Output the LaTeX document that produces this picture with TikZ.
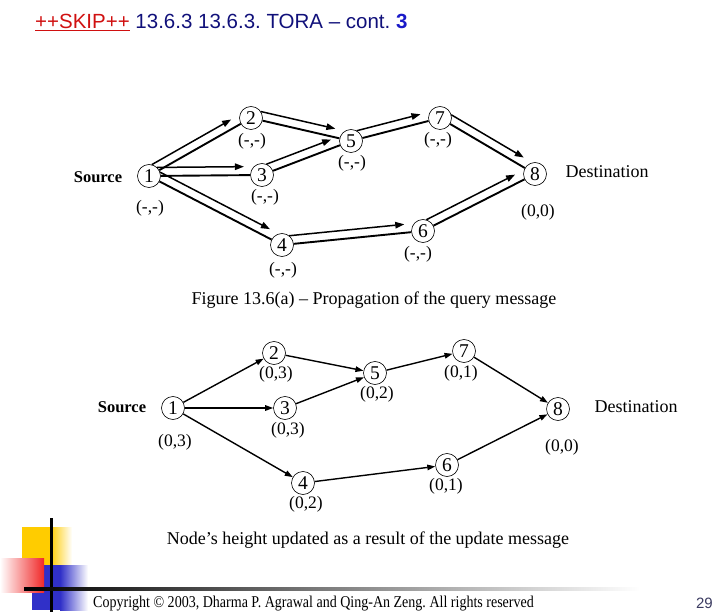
\documentclass[tikz,border=0pt]{standalone}
\usepackage{fontspec}
\setmainfont{Liberation Serif}
\newfontfamily\headfont[Ligatures=TeX]{Liberation Sans}
\newfontfamily\footfont[FakeStretch=0.85]{Liberation Serif}
\usetikzlibrary{calc,arrows.meta}
\frenchspacing
\definecolor{skipred}{HTML}{D01010}
\definecolor{titleblue}{HTML}{10107A}
\definecolor{numblue}{HTML}{1A1AC8}
\definecolor{decoyellow}{HTML}{FFCC00}
\definecolor{decored}{HTML}{F02828}
\definecolor{decoblue}{HTML}{3030C8}
\definecolor{pagegrey}{HTML}{3A3A60}
\tikzset{
  hnode/.style={draw, circle, line width=0.6pt, minimum size=23pt, inner sep=0pt,
                font=\fontsize{19.5}{19.5}\selectfont},
  hlabel/.style={font=\fontsize{17.5}{17.5}\selectfont, inner sep=0pt},
  endlabel/.style={font=\fontsize{18}{18}\selectfont, inner sep=0pt},
  srclabel/.style={font=\bfseries\fontsize{16.5}{16.5}\selectfont, inner sep=0pt},
  caption/.style={font=\fontsize{18}{18}\selectfont, inner sep=0pt},
  link/.style={line width=1.9pt},
  query/.style={line width=1.5pt, -{Triangle[length=9pt,width=6.5pt]}},
  update/.style={line width=1.4pt, -{Triangle[length=8pt,width=5.5pt]}},
}
% plain link plus the query arrow running beside it
\newcommand{\querypair}[2]{%
  \draw[link] (#1) -- (#2);
  \draw[query] ($(#1)!8pt!(#2)!8.5pt!90:(#2)$) -- ($(#2)!18pt!(#1)!8.5pt!-90:(#1)$);}

\begin{document}
\begin{tikzpicture}[x=1pt, y=-1pt]
  \useasboundingbox (0,0) rectangle (720,612);
  % title line
  \node[anchor=base west, inner sep=0pt, font=\headfont\fontsize{20.5}{20.5}\selectfont]
    (title) at (35,29) {\textcolor{skipred}{\underline{++SKIP++}}
    \textcolor{titleblue}{13.6.3 13.6.3. TORA -- cont. \textcolor{numblue}{\textbf{3}}}};

  % query propagation
  \node[hnode] (q1) at (149,176) {1};
  \node[hnode] (q2) at (251,118) {2};
  \node[hnode] (q3) at (262,175) {3};
  \node[hnode] (q4) at (282,245) {4};
  \node[hnode] (q5) at (351,141) {5};
  \node[hnode] (q6) at (423,231) {6};
  \node[hnode] (q7) at (440,118) {7};
  \node[hnode] (q8) at (535,174) {8};
  \node[hlabel] (qh1) at (150,208) {(-,-)};
  \node[hlabel] (qh2) at (252,141) {(-,-)};
  \node[hlabel] (qh3) at (265,197) {(-,-)};
  \node[hlabel] (qh4) at (283,270) {(-,-)};
  \node[hlabel] (qh5) at (352,163) {(-,-)};
  \node[hlabel] (qh6) at (418,254) {(-,-)};
  \node[hlabel] (qh7) at (438,140) {(-,-)};
  \node[hlabel] (qh8) at (538,212) {(0,0)};
  \node[srclabel] (qsrc) at (98,177) {Source};
  \node[endlabel] (qdst) at (607,172) {Destination};
  \querypair{q1}{q2}
  \querypair{q1}{q3}
  \querypair{q1}{q4}
  \querypair{q2}{q5}
  \querypair{q3}{q5}
  \querypair{q4}{q6}
  \querypair{q5}{q7}
  \querypair{q7}{q8}
  \querypair{q6}{q8}
  \node[caption] (qcap) at (374,300) {Figure 13.6(a) -- Propagation of the query message};

  % height update
  \node[hnode] (u1) at (173,408) {1};
  \node[hnode] (u2) at (274,353) {2};
  \node[hnode] (u3) at (285,408) {3};
  \node[hnode] (u4) at (303,483) {4};
  \node[hnode] (u5) at (375,373) {5};
  \node[hnode] (u6) at (447,465) {6};
  \node[hnode] (u7) at (464,351) {7};
  \node[hnode] (u8) at (558,409) {8};
  \node[hlabel] (uh1) at (175,442) {(0,3)};
  \node[hlabel] (uh2) at (276,374) {(0,3)};
  \node[hlabel] (uh3) at (288,430) {(0,3)};
  \node[hlabel] (uh4) at (306,504) {(0,2)};
  \node[hlabel] (uh5) at (377,394) {(0,2)};
  \node[hlabel] (uh6) at (446,486) {(0,1)};
  \node[hlabel] (uh7) at (461,373) {(0,1)};
  \node[hlabel] (uh8) at (562,447) {(0,0)};
  \node[srclabel] (usrc) at (122,407) {Source};
  \node[endlabel] (udst) at (636,407) {Destination};
  \draw[update] (u1) -- (u2);
  \draw[update] (u1) -- (u3);
  \draw[update] (u1) -- (u4);
  \draw[update] (u2) -- (u5);
  \draw[update] (u3) -- (u5);
  \draw[update] (u4) -- (u6);
  \draw[update] (u5) -- (u7);
  \draw[update] (u7) -- (u8);
  \draw[update] (u6) -- (u8);
  \node[caption] (ucap) at (368,540) {Node’s height updated as a result of the update message};

  % slide decoration
  \fill[decoyellow] (22,527) rectangle (50,565);
  \shade[left color=decoyellow, right color=white] (50,527) rectangle (72,565);
  \fill[decoblue] (32,565) rectangle (60,610);
  \shade[left color=decoblue, right color=white] (60,565) rectangle (88,610);
  \shade[left color=white, right color=decored] (0,558) rectangle (44,592);
  \fill[black] (49.5,518) rectangle (52.5,612);
  \shade[left color=black, right color=white] (24,587.5) rectangle (640,590.5);
  \node[anchor=base west, inner sep=0pt, font=\footfont\fontsize{16.5}{16.5}\selectfont]
    (copy) at (93,607) {Copyright © 2003, Dharma P. Agrawal and Qing-An Zeng. All rights reserved};
  \node[anchor=base east, inner sep=0pt, font=\headfont\fontsize{15}{15}\selectfont,
    text=pagegrey] (page) at (713,608) {29};
\end{tikzpicture}
\end{document}
